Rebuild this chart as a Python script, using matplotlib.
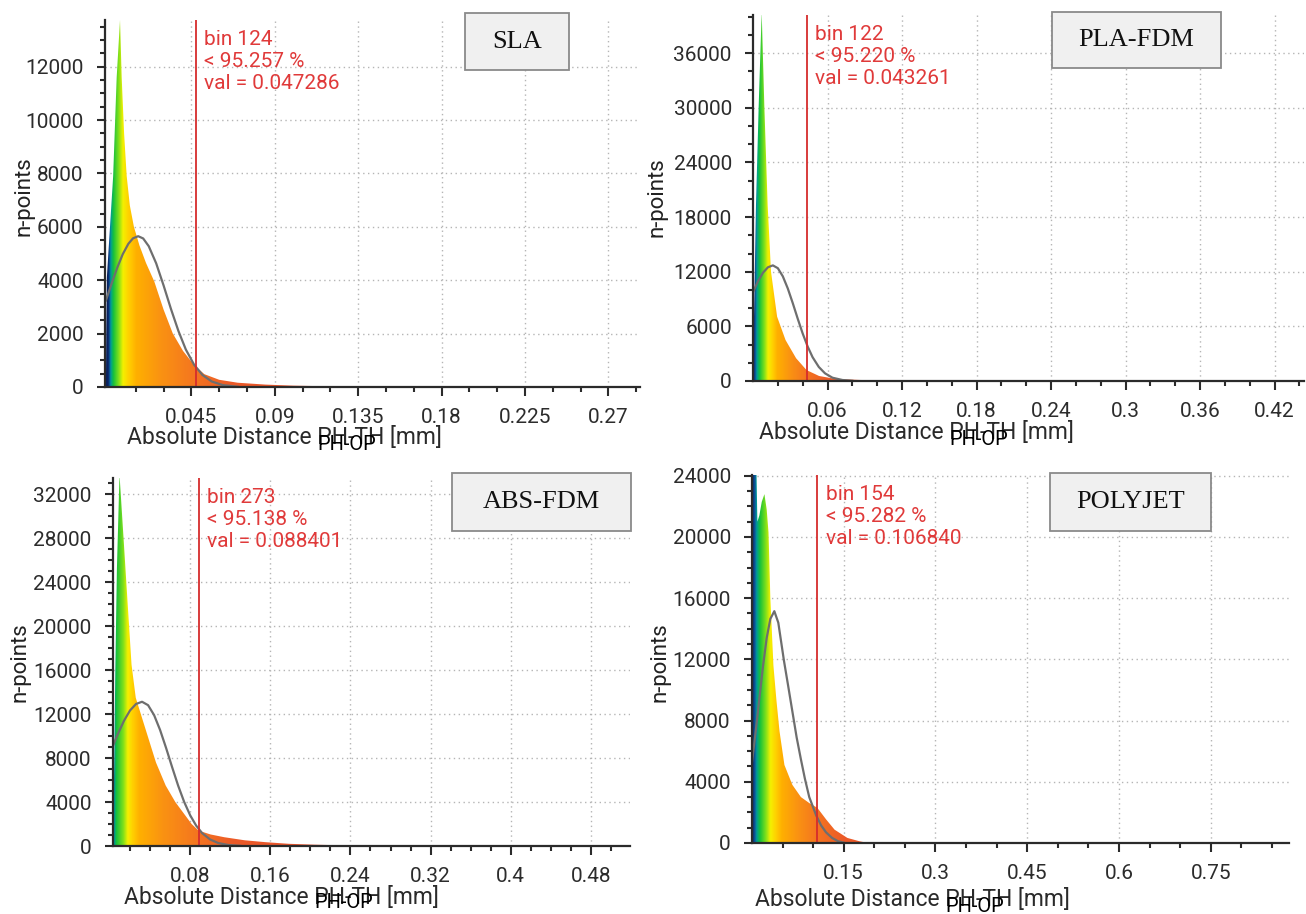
import numpy as np
import matplotlib
matplotlib.use("Agg")
import matplotlib.pyplot as plt
from matplotlib.patches import Polygon, Rectangle
from matplotlib.colors import to_rgb
from matplotlib import font_manager as fm

W, H, DPI = 1306, 914, 100

# ------------------------------------------------------------------ data
panel_names = ["SLA", "PLA-FDM", "ABS-FDM", "POLYJET"]

# histogram outlines (distance [mm], n-points)
sla_hist_x = [-0.0011, -0.0009, -0.0006, 0.0011, 0.0028, 0.0047, 0.0065, 0.0074, 0.0087,
              0.0101, 0.0118, 0.0140, 0.0170, 0.0205, 0.0250, 0.0300, 0.0350, 0.0405,
              0.0465, 0.0520, 0.0600, 0.0700, 0.0850, 0.1000, 0.1200, 0.1500]
sla_hist_y = [0, 2200, 4100, 6000, 7900, 11600, 13750, 11600, 9500,
              7900, 6800, 6000, 5300, 4650, 3950, 2900, 2000, 1350,
              820, 480, 270, 160, 90, 50, 25, 0]

pla_hist_x = [0.0, 0.0001, 0.0005, 0.0024, 0.0046, 0.0070, 0.0091, 0.0118, 0.0145,
              0.0194, 0.0262, 0.0347, 0.0431, 0.0532, 0.0668, 0.0870, 0.1210, 0.1600]
pla_hist_y = [0, 2000, 4700, 19300, 30300, 40500, 30300, 19300, 12000,
              7070, 4500, 2500, 1200, 550, 220, 110, 40, 0]

abs_hist_x = [0.0030, 0.0033, 0.0037, 0.0053, 0.0069, 0.0095, 0.0134, 0.0176, 0.0215,
              0.0257, 0.0332, 0.0459, 0.0556, 0.0652, 0.0815, 0.0884, 0.1004, 0.1140,
              0.1345, 0.1550, 0.1785, 0.2040, 0.2470, 0.2760]
abs_hist_y = [0, 2000, 3900, 16000, 25200, 33800, 28200, 22100, 16500,
              13500, 11300, 7600, 5500, 4000, 2000, 1400, 1050, 800,
              520, 350, 200, 120, 30, 0]

poly_hist_x = [0.0, 0.0005, 0.0008, 0.0040, 0.0072, 0.0088, 0.0120, 0.0160, 0.0203,
               0.0240, 0.0270, 0.0300, 0.0350, 0.0400, 0.0450, 0.0530, 0.0660, 0.0800,
               0.0940, 0.1068, 0.1210, 0.1350, 0.1560, 0.1760, 0.1900]
poly_hist_y = [0, 0, 24500, 24500, 24500, 21000, 21400, 22300, 22800,
               21800, 20300, 16000, 11600, 9300, 7300, 5100, 3800, 3000,
               2600, 2300, 1550, 870, 330, 110, 0]

# fitted curves (grey)
sla_fit_x = [-0.0011, 0.002, 0.005, 0.008, 0.011, 0.0135, 0.0163, 0.019, 0.022, 0.026,
             0.030, 0.034, 0.038, 0.042, 0.0465, 0.051, 0.056, 0.062, 0.070]
sla_fit_y = [3240, 3880, 4470, 4980, 5365, 5570, 5650, 5565, 5275, 4635,
             3805, 2920, 2100, 1405, 830, 450, 205, 70, 10]

pla_fit_x = [0.0, 0.004, 0.008, 0.012, 0.016, 0.020, 0.024, 0.028, 0.032, 0.036,
             0.040, 0.044, 0.048, 0.053, 0.058, 0.064, 0.072, 0.080]
pla_fit_y = [9750, 10950, 11890, 12490, 12700, 12390, 11500, 10170, 8560, 6850,
             5220, 3790, 2610, 1540, 840, 360, 110, 23]

abs_fit_x = [0.003, 0.008, 0.014, 0.020, 0.026, 0.032, 0.038, 0.044, 0.050, 0.056,
             0.062, 0.068, 0.074, 0.080, 0.086, 0.092, 0.100, 0.108, 0.118, 0.130]
abs_fit_y = [9120, 10230, 11410, 12340, 12930, 13130, 12820, 11920, 10560, 8920,
             7180, 5500, 4020, 2800, 1856, 1170, 590, 272, 92, 20]

poly_fit_x = [0.0, 0.006, 0.012, 0.018, 0.024, 0.030, 0.0365, 0.043, 0.0523, 0.059,
              0.066, 0.073, 0.0798, 0.0865, 0.0936, 0.105, 0.113, 0.121, 0.131, 0.141, 0.150]
poly_fit_y = [5300, 7280, 9440, 11570, 13400, 14650, 15150, 14400, 11900, 10300,
              8600, 6900, 5500, 4200, 3000, 1800, 1150, 700, 330, 110, 25]

# 95 % markers
bin_numbers = [124, 122, 273, 154]
percentages = ["95.257", "95.220", "95.138", "95.282"]
marker_values = [0.047286, 0.043261, 0.088401, 0.106840]
marker_labels = ["0.047286", "0.043261", "0.088401", "0.106840"]

# ticks
sla_xticks = [0.045, 0.09, 0.135, 0.18, 0.225, 0.27]
sla_xticklabels = ["0.045", "0.09", "0.135", "0.18", "0.225", "0.27"]
pla_xticks = [0.06, 0.12, 0.18, 0.24, 0.30, 0.36, 0.42]
pla_xticklabels = ["0.06", "0.12", "0.18", "0.24", "0.3", "0.36", "0.42"]
abs_xticks = [0.08, 0.16, 0.24, 0.32, 0.40, 0.48]
abs_xticklabels = ["0.08", "0.16", "0.24", "0.32", "0.4", "0.48"]
poly_xticks = [0.15, 0.30, 0.45, 0.60, 0.75]
poly_xticklabels = ["0.15", "0.3", "0.45", "0.6", "0.75"]

sla_yticks = [0, 2000, 4000, 6000, 8000, 10000, 12000]
pla_yticks = [0, 6000, 12000, 18000, 24000, 30000, 36000]
abs_yticks = [0, 4000, 8000, 12000, 16000, 20000, 24000, 28000, 32000]
poly_yticks = [0, 4000, 8000, 12000, 16000, 20000, 24000]

xlabel_text = "Absolute Distance PH-TH [mm]"
overlay_text = "PH-OP"
ylabel_text = "n-points"

# ------------------------------------------------------------------ style
grad_colors = ["#0a2260", "#0d4f98", "#009a9a", "#14c03c", "#80e01a", "#f4f000",
               "#ffd200", "#ffb000", "#fa9212", "#f47420", "#ec5a28", "#e04c30"]
stops_sla = [0, 0.015, 0.03, 0.06, 0.12, 0.17, 0.23, 0.32, 0.6, 1.0, 1.4, 3.0]
stops_abs = [0, 0.036, 0.048, 0.07, 0.15, 0.20, 0.25, 0.33, 0.6, 1.0, 1.4, 3.0]
stops_b = [0, 0.04, 0.07, 0.12, 0.21, 0.28, 0.36, 0.45, 0.7, 1.0, 1.4, 3.0]

names = {f.name for f in fm.fontManager.ttflist}
SANS = "Roboto" if "Roboto" in names else "DejaVu Sans"
SERIF = "Liberation Serif" if "Liberation Serif" in names else "DejaVu Serif"
if "Liberation Sans Narrow" in names:
    NARROW, NARROW_SIZE = "Liberation Sans Narrow", 16
else:
    NARROW, NARROW_SIZE = SANS, 14.5
plt.rcParams["font.family"] = [SANS, "DejaVu Sans"]

panels = [
    dict(hx=sla_hist_x, hy=sla_hist_y, fx=sla_fit_x, fy=sla_fit_y,
         xt=sla_xticks, xtl=sla_xticklabels, yt=sla_yticks,
         rect=(105, 20, 640, 387), xlim=(-0.0016, 0.287), ylim=(0, 13750),
         xminor=0.015, yminor=500, stops=stops_sla,
         ylab=(24, 196), xlab=(127, 438), box=(465, 13, 569, 70)),
    dict(hx=pla_hist_x, hy=pla_hist_y, fx=pla_fit_x, fy=pla_fit_y,
         xt=pla_xticks, xtl=pla_xticklabels, yt=pla_yticks,
         rect=(753, 15, 1304, 381), xlim=(0.0, 0.4437), ylim=(0, 40200),
         xminor=0.02, yminor=2000, stops=stops_b,
         ylab=(657, 197), xlab=(759, 433), box=(1052, 12, 1221, 68)),
    dict(hx=abs_hist_x, hy=abs_hist_y, fx=abs_fit_x, fy=abs_fit_y,
         xt=abs_xticks, xtl=abs_xticklabels, yt=abs_yticks,
         rect=(113, 478, 630, 846), xlim=(0.003, 0.519), ylim=(0, 33500),
         xminor=0.02, yminor=1000, stops=stops_abs,
         ylab=(20, 662), xlab=(124, 897), box=(452, 473, 631, 531)),
    dict(hx=poly_hist_x, hy=poly_hist_y, fx=poly_fit_x, fy=poly_fit_y,
         xt=poly_xticks, xtl=poly_xticklabels, yt=poly_yticks,
         rect=(752, 475, 1289, 843), xlim=(0.0, 0.878), ylim=(0, 24050),
         xminor=0.05, yminor=1000, stops=stops_b,
         ylab=(660, 662), xlab=(755, 900), box=(1050, 473, 1211, 531)),
]


def fxp(px):
    return px / W


def fyp(py):
    return 1 - py / H


fig = plt.figure(figsize=(W / DPI, H / DPI), dpi=DPI)
rgb = np.array([to_rgb(c) for c in grad_colors])
AX_COL = "#2b2b2b"
TXT_COL = "#2c2c2c"

for i, cfg in enumerate(panels):
    l, t, r, b = cfg["rect"]
    ax = fig.add_axes([fxp(l), fyp(b), (r - l) / W, (b - t) / H])
    hx = np.asarray(cfg["hx"], float)
    hy = np.asarray(cfg["hy"], float)
    x95 = marker_values[i]

    # gradient-filled histogram
    verts = np.column_stack([np.r_[hx[0], hx, hx[-1]], np.r_[0, hy, 0]])
    poly = Polygon(verts, closed=True, facecolor="none", edgecolor="none",
                   transform=ax.transData)
    ax.add_patch(poly)
    xs = np.linspace(hx.min(), hx.max(), 1500)
    rel = np.clip(xs, 0, None) / x95
    cols = np.stack([np.interp(rel, cfg["stops"], rgb[:, k]) for k in range(3)], axis=-1)
    img = np.repeat(cols[None, :, :], 2, axis=0)
    im = ax.imshow(img, extent=(hx.min(), hx.max(), 0, hy.max() * 1.01),
                   aspect="auto", origin="lower", interpolation="bilinear", zorder=2)
    im.set_clip_path(poly)

    # fitted curve
    ax.plot(cfg["fx"], cfg["fy"], color="#6e6e6e", lw=1.6, zorder=4,
            solid_joinstyle="round")

    # 95 % marker
    ax.axvline(x95, color="#d62c2c", lw=1.3, zorder=5)
    ax.annotate(f"bin {bin_numbers[i]}\n< {percentages[i]} %\nval = {marker_labels[i]}",
                xy=(x95, 1.0), xycoords=("data", "axes fraction"),
                xytext=(6.0, -7.5), textcoords="offset points",
                ha="left", va="top", color="#e03a3a", fontsize=15,
                linespacing=1.2, zorder=6)

    ax.set_xlim(*cfg["xlim"])
    ax.set_ylim(*cfg["ylim"])

    # ticks
    ax.set_xticks(cfg["xt"], labels=cfg["xtl"])
    ax.set_yticks(cfg["yt"])
    ax.set_yticklabels([str(v) for v in cfg["yt"]])
    xm = np.arange(cfg["xminor"], cfg["xlim"][1], cfg["xminor"])
    xm = [v for v in xm if not np.any(np.isclose(v, cfg["xt"], atol=1e-6))]
    ax.set_xticks(xm, minor=True)
    ym = np.arange(cfg["yminor"], cfg["ylim"][1] + 1, cfg["yminor"])
    ym = [v for v in ym if not np.any(np.isclose(v, cfg["yt"]))]
    ax.set_yticks(ym, minor=True)
    ax.tick_params(axis="both", which="major", direction="out", width=1.5,
                   color=AX_COL, labelsize=15, labelcolor=TXT_COL)
    ax.tick_params(axis="x", which="major", length=6.5, pad=8.5)
    ax.tick_params(axis="y", which="major", length=5.8, pad=9.5)
    ax.tick_params(axis="both", which="minor", direction="out", width=1.5,
                   length=3.6, color=AX_COL)

    ax.grid(True, which="major", linestyle=(0, (1, 2.5)), color="#b5b5b5", lw=1.0,
            zorder=0)
    ax.set_axisbelow(True)
    for s in ("top", "right"):
        ax.spines[s].set_visible(False)
    for s in ("left", "bottom"):
        ax.spines[s].set_color(AX_COL)
        ax.spines[s].set_linewidth(1.6)
        ax.spines[s].set_zorder(7)
    ax.patch.set_alpha(0)

    # y label
    yx, yy = cfg["ylab"]
    fig.text(fxp(yx), fyp(yy), ylabel_text, rotation=90, ha="center", va="center",
             fontsize=16, color="#222222")

    # x label with overlaid text
    lx, ly = cfg["xlab"]
    tl = fig.text(fxp(lx), fyp(ly), xlabel_text, ha="left", va="center",
                  fontsize=16.5, color="#2a2a2a")
    rend = fig.canvas.get_renderer()
    ext = tl.get_window_extent(rend)
    tmp = fig.text(0, 0, "PH-TH [mm]", fontsize=16.5)
    wtail = tmp.get_window_extent(rend).width
    tmp.remove()
    start_px = ext.x1 - wtail
    fig.text(start_px / W, fyp(ly + 6), overlay_text, ha="left", va="center",
             fontsize=NARROW_SIZE, family=NARROW, color="#000000")

    # title box
    x0, y0, x1, y1 = cfg["box"]
    fig.patches.append(Rectangle((fxp(x0), fyp(y1)), (x1 - x0) / W, (y1 - y0) / H,
                                 transform=fig.transFigure, facecolor="#f0f0f0",
                                 edgecolor="#8a8a8a", lw=1.3, zorder=10))
    fig.text(fxp((x0 + x1) / 2), fyp((y0 + y1) / 2), panel_names[i], ha="center",
             va="center", fontsize=19, family=SERIF, color="#111111", zorder=11)

fig.savefig("out.png", dpi=DPI)
